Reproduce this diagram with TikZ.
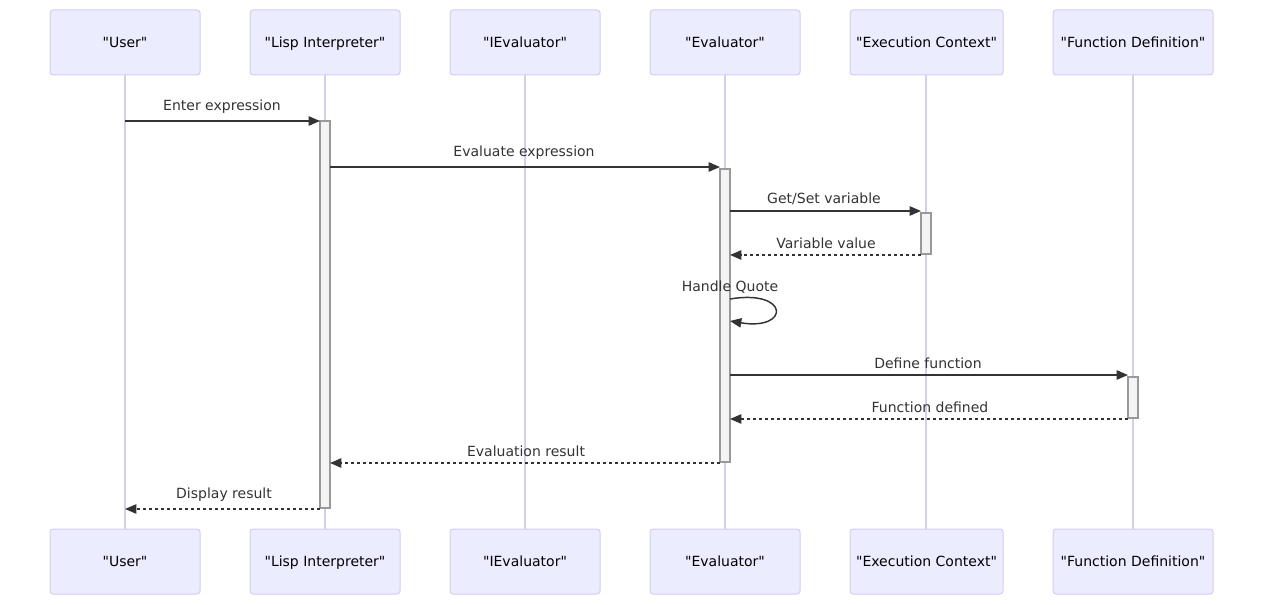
\documentclass[tikz,border=0pt]{standalone}
\usepackage{fontspec}
\setmainfont{DejaVu Sans}
\usetikzlibrary{arrows.meta}

\definecolor{actfill}{HTML}{ECECFF}
\definecolor{actline}{HTML}{D6CCF2}
\definecolor{msgcol}{HTML}{333333}
\definecolor{barfill}{HTML}{F4F4F4}
\definecolor{barline}{HTML}{999999}

\newcommand{\qname}[1]{\textquotedbl#1\textquotedbl}

\tikzset{
  actor/.style={draw=actline, fill=actfill, rounded corners=2.25pt, line width=0.75pt,
    minimum height=48.75pt, inner sep=0pt, text=black, text depth=0pt,
    font=\fontsize{10.5}{12}\selectfont},
  lifeline/.style={draw=actline, line width=1pt},
  actbar/.style={draw=barline, fill=barfill, line width=0.9pt},
  msg/.style={draw=msgcol, line width=1.1pt, -{Triangle[length=8.5pt,width=7pt]}},
  reply/.style={msg, dash pattern={on 2.25pt off 2.25pt}},
  msglabel/.style={text=msgcol, inner sep=0.75pt, font=\fontsize{10.5}{12}\selectfont}
}

\begin{document}
\begin{tikzpicture}[x=0.75pt,y=0.75pt,yscale=-1,xscale=1]
\useasboundingbox (0,0) rectangle (1263,605);

%Lifelines
\draw [lifeline] (125,75) -- (125,529) ;
\draw [lifeline] (325,75) -- (325,529) ;
\draw [lifeline] (525,75) -- (525,529) ;
\draw [lifeline] (725,75) -- (725,529) ;
\draw [lifeline] (926,75) -- (926,529) ;
\draw [lifeline] (1133,75) -- (1133,529) ;

%Actors top
\node [actor, minimum width=112.5pt] (usr) at (125,42.5) {\qname{User}};
\node [actor, minimum width=112.5pt] (lisp) at (325,42.5) {\qname{Lisp Interpreter}};
\node [actor, minimum width=112.5pt] (iev) at (525,42.5) {\qname{IEvaluator}};
\node [actor, minimum width=112.5pt] (ev) at (725,42.5) {\qname{Evaluator}};
\node [actor, minimum width=114.75pt] (ctx) at (926.5,42.5) {\qname{Execution Context}};
\node [actor, minimum width=120pt] (fdef) at (1133,42.5) {\qname{Function Definition}};
%Actors bottom
\node [actor, minimum width=112.5pt] (usrb) at (125,561.5) {\qname{User}};
\node [actor, minimum width=112.5pt] (lispb) at (325,561.5) {\qname{Lisp Interpreter}};
\node [actor, minimum width=112.5pt] (ievb) at (525,561.5) {\qname{IEvaluator}};
\node [actor, minimum width=112.5pt] (evb) at (725,561.5) {\qname{Evaluator}};
\node [actor, minimum width=114.75pt] (ctxb) at (926.5,561.5) {\qname{Execution Context}};
\node [actor, minimum width=120pt] (fdefb) at (1133,561.5) {\qname{Function Definition}};

%Activation bars
\draw [actbar] (320,121) rectangle (330,508) ;
\draw [actbar] (720,169) rectangle (730,462) ;
\draw [actbar] (921,213) rectangle (931,254) ;
\draw [actbar] (1128,377) rectangle (1138,418) ;

%Message ends
\coordinate (m1a) at (125,121); \coordinate (m1b) at (320,121);
\coordinate (m2a) at (330,167); \coordinate (m2b) at (720,167);
\coordinate (m3a) at (730,211); \coordinate (m3b) at (921,211);
\coordinate (m4a) at (921,255); \coordinate (m4b) at (730,255);
\coordinate (m5a) at (730,299); \coordinate (m5b) at (730,321);
\coordinate (m6a) at (730,375); \coordinate (m6b) at (1128,375);
\coordinate (m7a) at (1128,419); \coordinate (m7b) at (730,419);
\coordinate (m8a) at (720,463); \coordinate (m8b) at (330,463);
\coordinate (m9a) at (320,509); \coordinate (m9b) at (125,509);

%Messages
\draw [msg] (m1a) -- (m1b) ;
\draw [msg] (m2a) -- (m2b) ;
\draw [msg] (m3a) -- (m3b) ;
\draw [reply] (m4a) -- (m4b) ;
\draw [msg] (m5a) .. controls (790,289) and (790,331) .. (m5b) ;
\draw [msg] (m6a) -- (m6b) ;
\draw [reply] (m7a) -- (m7b) ;
\draw [reply] (m8a) -- (m8b) ;
\draw [reply] (m9a) -- (m9b) ;

% Text Node
\node [msglabel] (t1) at (222,107) {Enter expression};
\node [msglabel] (t2) at (524,153) {Evaluate expression};
\node [msglabel] (t3) at (824,199) {Get/Set variable};
\node [msglabel] (t4) at (826,243) {Variable value};
\node [msglabel] (t5) at (730,287) {Handle Quote};
\node [msglabel] (t6) at (928,363) {Define function};
\node [msglabel] (t7) at (930,407) {Function defined};
\node [msglabel] (t8) at (526,451) {Evaluation result};
\node [msglabel] (t9) at (224,495) {Display result};

\end{tikzpicture}
\end{document}
